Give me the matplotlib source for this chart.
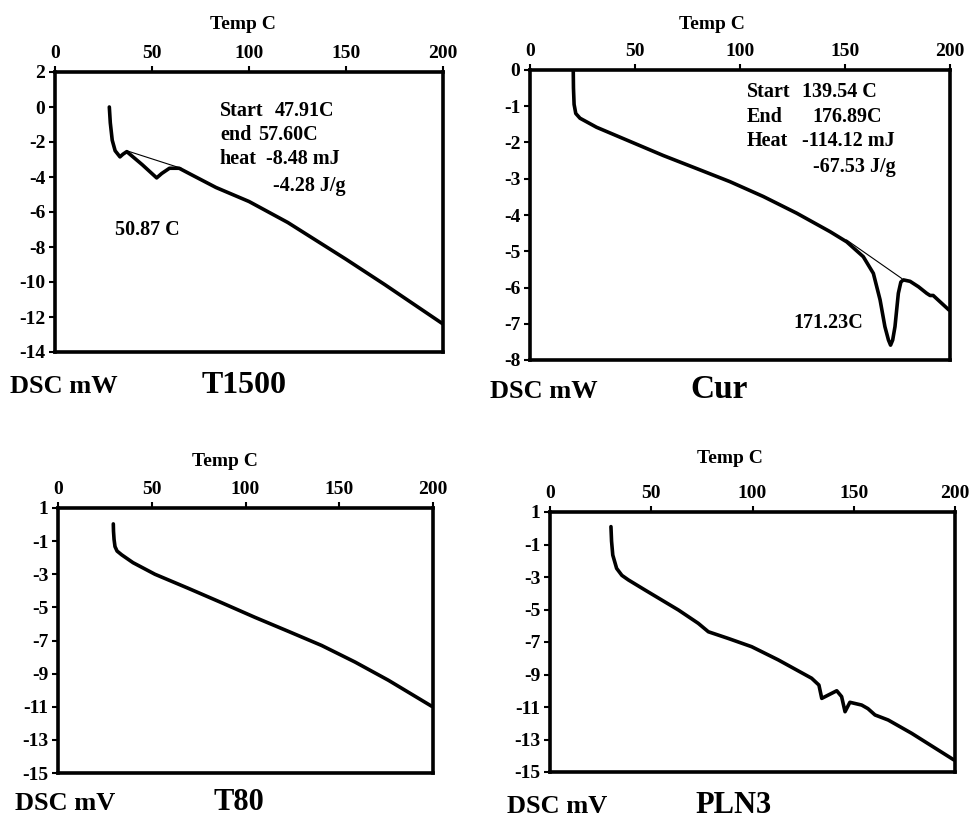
import numpy as np
import matplotlib.pyplot as plt

plt.rcParams["font.family"] = ["Liberation Serif", "DejaVu Serif"]
plt.rcParams["font.weight"] = "bold"
plt.rcParams["axes.unicode_minus"] = False

W, H = 975, 819

# T1500
t1500_x = [28, 28.5, 29.5, 31, 33.5, 35, 37, 45, 52.4, 55, 59, 64, 70, 83, 100, 120, 150, 170, 200]
t1500_y = [0, -0.9, -1.9, -2.5, -2.85, -2.7, -2.55, -3.3, -4.05, -3.8, -3.5, -3.5, -3.85, -4.6, -5.4, -6.6, -8.7, -10.15, -12.4]
t1500_base_x = [37, 65]
t1500_base_y = [-2.5, -3.5]

# Cur
cur_x = [20.6, 20.7, 21.0, 21.8, 23.8, 31.7, 47.6, 63.5, 79.4, 95.2, 111.1, 127, 142.9, 150.8,
         158.7, 163.5, 166.7, 169, 170.7, 171.7, 172.7, 173.8, 175.4, 176.6, 177.8, 181, 185,
         188.9, 190.5, 192, 195, 199.5]
cur_y = [-0.04, -0.5, -0.95, -1.2, -1.33, -1.58, -1.97, -2.36, -2.72, -3.08, -3.49, -3.95,
         -4.46, -4.74, -5.15, -5.61, -6.34, -7.08, -7.45, -7.59, -7.45, -7.08, -6.16, -5.85,
         -5.79, -5.83, -5.98, -6.16, -6.22, -6.22, -6.38, -6.62]
cur_base_x = [150.8, 177]
cur_base_y = [-4.69, -5.75]

# T80
t80_x = [29.5, 29.6, 29.9, 30.4, 31.5, 34, 40, 51.7, 69.5, 87.3, 105, 122.9, 140.6, 158.4, 176.2, 199.3]
t80_y = [0.04, -0.4, -0.9, -1.33, -1.6, -1.83, -2.3, -3.0, -3.85, -4.72, -5.6, -6.45, -7.3,
         -8.3, -9.4, -10.97]

# PLN3
pln3_x = [30.1, 30.4, 31, 32.9, 35.5, 38.7, 46.9, 63.4, 73.2, 78.2, 88, 99.6, 112.7, 129.2, 132.8,
          134.2, 137.5, 141.6, 144, 145.7, 148.1, 153.9, 157, 160.5, 167, 178.6, 199.5]
pln3_y = [0.1, -0.8, -1.65, -2.47, -2.9, -3.18, -3.8, -5.03, -5.85, -6.37, -6.78, -7.29, -8.1,
          -9.23, -9.65, -10.47, -10.26, -10.0, -10.36, -11.29, -10.71, -10.88, -11.1, -11.49,
          -11.8, -12.62, -14.26]

x_ticks = [0, 50, 100, 150, 200]


def px(x, y):
    return x / W, 1 - y / H


def panneau(fig, l, r, t, b, x, y, ylim, yticks):
    ax = fig.add_axes([l / W, 1 - b / H, (r - l) / W, (b - t) / H])
    ax.plot(x, y, color="black", lw=2.6, solid_joinstyle="round", solid_capstyle="round")
    ax.set_xlim(0, 200)
    ax.set_ylim(*ylim)
    ax.set_xticks(x_ticks)
    ax.set_yticks(yticks)
    ax.xaxis.tick_top()
    ax.tick_params(axis="both", direction="out", length=4, width=1.5, labelsize=14, pad=3)
    for s in ax.spines.values():
        s.set_linewidth(2.6)
    return ax


fig = plt.figure(figsize=(W / 100, H / 100), dpi=100)

# --- T1500
ax1 = panneau(fig, 55, 443, 72, 352, t1500_x, t1500_y, (-14, 2), range(-14, 3, 2))
ax1.plot(t1500_base_x, t1500_base_y, color="black", lw=0.8)
for (xx, yy, s) in [(85, -0.25, "Start"), (113.4, -0.25, "47.91C"),
                    (85, -1.6, "end"), (104.8, -1.6, "57.60C"),
                    (85, -2.95, "heat"), (109, -2.95, "-8.48 mJ"),
                    (112.5, -4.5, "-4.28 J/g"), (31, -7.05, "50.87 C")]:
    ax1.text(xx, yy, s, fontsize=14.5, va="center", ha="left")

# --- Cur
ax2 = panneau(fig, 530, 950, 70, 360, cur_x, cur_y, (-8, 0), range(-8, 1, 1))
ax2.plot(cur_base_x, cur_base_y, color="black", lw=0.8)
for (xx, yy, s) in [(103.2, -0.62, "Start"), (129.4, -0.62, "139.54 C"),
                    (103.2, -1.3, "End"), (134.6, -1.3, "176.89C"),
                    (103.2, -1.95, "Heat"), (129.4, -1.95, "-114.12 mJ"),
                    (134.9, -2.67, "-67.53 J/g"), (125.4, -6.99, "171.23C")]:
    ax2.text(xx, yy, s, fontsize=14.5, va="center", ha="left")

# --- T80
ax3 = panneau(fig, 58, 433, 508, 773, t80_x, t80_y, (-15, 1), range(-15, 2, 2))

# --- PLN3
ax4 = panneau(fig, 550, 955, 512, 772, pln3_x, pln3_y, (-15, 1), range(-15, 2, 2))

# titres d'axes et noms d'echantillons
for (x, y, s, size, ha) in [
    (243, 29, "Temp C", 14, "center"), (712, 29, "Temp C", 14, "center"),
    (225, 466, "Temp C", 14, "center"), (730, 463, "Temp C", 14, "center"),
    (10, 393, "DSC mW", 19, "left"), (244, 393, "T1500", 23, "center"),
    (490, 398, "DSC mW", 19, "left"), (719, 398, "Cur", 24, "center"),
    (15, 810, "DSC mV", 19, "left"), (239, 810, "T80", 22, "center"),
    (507, 813, "DSC mV", 19, "left"), (733, 813, "PLN3", 22, "center"),
]:
    fx, fy = px(x, y)
    fig.text(fx, fy, s, fontsize=size, ha=ha, va="baseline")

fig.savefig("out.png", dpi=100)
